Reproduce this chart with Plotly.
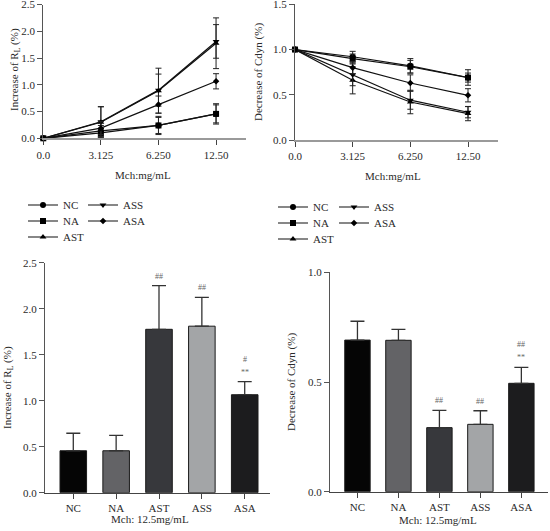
import plotly.graph_objects as go

W, H = 550, 531

# ---------------- data ----------------
conc_labels = ["0.0", "3.125", "6.250", "12.50"]
groups = ["NC", "NA", "AST", "ASS", "ASA"]

rl_mean = {
    "NC":  [0.0, 0.14, 0.24, 0.456],
    "NA":  [0.0, 0.10, 0.24, 0.456],
    "AST": [0.0, 0.30, 0.89, 1.776],
    "ASS": [0.0, 0.31, 0.90, 1.81],
    "ASA": [0.0, 0.19, 0.63, 1.065],
}
rl_err = {
    "NC":  [0.0, 0.10, 0.17, 0.19],
    "NA":  [0.0, 0.08, 0.15, 0.168],
    "AST": [0.0, 0.29, 0.42, 0.474],
    "ASS": [0.0, 0.28, 0.30, 0.314],
    "ASA": [0.0, 0.12, 0.16, 0.142],
}
cd_mean = {
    "NC":  [1.0, 0.92, 0.82, 0.691],
    "NA":  [1.0, 0.90, 0.81, 0.690],
    "AST": [1.0, 0.66, 0.42, 0.292],
    "ASS": [1.0, 0.72, 0.44, 0.307],
    "ASA": [1.0, 0.80, 0.63, 0.494],
}
cd_err = {
    "NC":  [0.0, 0.06, 0.08, 0.086],
    "NA":  [0.0, 0.05, 0.07, 0.050],
    "AST": [0.0, 0.15, 0.13, 0.079],
    "ASS": [0.0, 0.12, 0.10, 0.062],
    "ASA": [0.0, 0.07, 0.09, 0.073],
}

bar_rl = [0.456, 0.456, 1.776, 1.81, 1.065]
bar_rl_err = [0.19, 0.168, 0.474, 0.314, 0.142]
bar_cd = [0.691, 0.690, 0.292, 0.307, 0.494]
bar_cd_err = [0.086, 0.050, 0.079, 0.062, 0.073]

sig_rl = ["", "", "##", "##", "**|#"]
sig_cd = ["", "", "##", "##", "**|##"]

# ---------------- styles ----------------
FONT = "Liberation Serif, Times New Roman, serif"
TXT = "#2a2a2a"
symbols = {"NC": "circle", "NA": "square", "AST": "triangle-up",
           "ASS": "triangle-down", "ASA": "diamond"}
msize = {"NC": 6, "NA": 6, "AST": 6, "ASS": 6, "ASA": 5}
bar_colors = ["#050505", "#636366", "#37383c", "#a3a5a7", "#1c1c1e"]
legend_pos = {"NC": (0, 0), "NA": (0, 1), "AST": (0, 2), "ASS": (1, 0), "ASA": (1, 1)}


def px_x(p):
    return p / W


def px_y(p):
    return 1 - p / H


fig = go.Figure()

# ---------------- line charts ----------------
xs = list(range(len(conc_labels)))
legend_layouts = {}
lid = 0
for panel, (means, errs, xa, ya, col_x, row_y) in enumerate([
    (rl_mean, rl_err, "x", "y", [23, 83], [205, 221, 237]),
    (cd_mean, cd_err, "x2", "y2", [273, 334], [207, 223, 239]),
]):
    for g in groups:
        lid += 1
        lname = "legend" if lid == 1 else f"legend{lid}"
        c, r = legend_pos[g]
        legend_layouts[lname] = dict(
            x=px_x(col_x[c]), y=px_y(row_y[r]), xanchor="left", yanchor="middle",
            bgcolor="rgba(0,0,0,0)", font=dict(family=FONT, size=11, color=TXT),
            itemwidth=30,
        )
        fig.add_trace(go.Scatter(
            x=xs, y=means[g], name=g, mode="lines+markers",
            xaxis=xa, yaxis=ya, legend=lname,
            line=dict(color="#111111", width=1.2),
            marker=dict(symbol=symbols[g], size=msize[g], color="#000000"),
            error_y=dict(type="data", array=errs[g], color="#222222", thickness=1, width=3),
            cliponaxis=False,
        ))

# ---------------- bar charts ----------------
for vals, errs, xa, ya, sig in [
    (bar_rl, bar_rl_err, "x3", "y3", sig_rl),
    (bar_cd, bar_cd_err, "x4", "y4", sig_cd),
]:
    fig.add_trace(go.Bar(
        x=groups, y=vals, xaxis=xa, yaxis=ya, showlegend=False,
        marker=dict(color=bar_colors, line=dict(color="#1a1a1a", width=1)),
        width=0.62,
        error_y=dict(type="data", array=errs, arrayminus=[0] * len(errs), symmetric=False,
                     color="#333333", thickness=1.3, width=7),
    ))
    for g, v, e, s in zip(groups, vals, errs, sig):
        if not s:
            continue
        for k, t in enumerate(s.split("|")):
            fig.add_annotation(
                x=g, y=v + e, xref=xa, yref=ya, text=t, showarrow=False,
                yanchor="bottom", yshift=3 + 13 * k,
                font=dict(family=FONT, size=8, color="#666666"),
            )

# ---------------- axes ----------------
tick_font = dict(family=FONT, size=11, color=TXT)
common_y = dict(showline=True, linecolor="#555555", linewidth=1, ticks="outside",
                ticklen=5, tickcolor="#555555", showgrid=False, zeroline=False,
                tickfont=tick_font, tickformat=".1f", automargin=False,
                ticklabeloverflow="allow")
line_x = dict(showline=True, linecolor="#9a9a9a", linewidth=2, ticks="outside",
              ticklen=5, tickcolor="#444444", showgrid=False, zeroline=False,
              tickfont=tick_font, tickvals=xs, ticktext=conc_labels,
              range=[0, 3.52], automargin=False, ticklabeloverflow="allow")
bar_x = dict(showline=True, linecolor="#444444", linewidth=1.2, ticks="outside",
             ticklen=5, tickcolor="#444444", showgrid=False, zeroline=False,
             tickfont=tick_font, automargin=False, type="category",
             ticklabeloverflow="allow")

fig.update_layout(
    width=W, height=H,
    margin=dict(l=0, r=0, t=0, b=0),
    paper_bgcolor="white", plot_bgcolor="white",
    font=dict(family=FONT, size=11, color=TXT),
    xaxis=dict(domain=[px_x(43.3), px_x(246)], anchor="y", **line_x),
    yaxis=dict(domain=[px_y(138.3), px_y(4.5)], anchor="x", range=[0, 2.5], dtick=0.5, **common_y),
    xaxis2=dict(domain=[px_x(295), px_x(498)], anchor="y2", **line_x),
    yaxis2=dict(domain=[px_y(140), px_y(4.3)], anchor="x2", range=[0, 1.5], dtick=0.5, **common_y),
    xaxis3=dict(domain=[px_x(45), px_x(270)], anchor="y3", range=[-0.66, 4.59], **bar_x),
    yaxis3=dict(domain=[px_y(492.7), px_y(262.7)], anchor="x3", range=[0, 2.5], dtick=0.5, **common_y),
    xaxis4=dict(domain=[px_x(330), px_x(548)], anchor="y4", range=[-0.67, 4.65], **bar_x),
    yaxis4=dict(domain=[px_y(491.7), px_y(272.3)], anchor="x4", range=[0, 1.0], dtick=0.5, **common_y),
    **legend_layouts,
)

# axis titles
titles = [
    ("Mch:mg/mL", 143, 175, 0),
    ("Mch:mg/mL", 393, 176, 0),
    ("Mch: 12.5mg/mL", 150, 519, 0),
    ("Mch: 12.5mg/mL", 438, 520, 0),
    ("Increase of R<sub>L</sub> (%)", 15, 70, -90),
    ("Decrease of Cdyn (%)", 259, 72, -90),
    ("Increase of R<sub>L</sub> (%)", 8, 388, -90),
    ("Decrease of Cdyn (%)", 291, 382, -90),
]
for t, x, y, ang in titles:
    fig.add_annotation(text=t, x=px_x(x), y=px_y(y), xref="paper", yref="paper",
                       showarrow=False, textangle=ang, xanchor="center", yanchor="middle",
                       font=dict(family=FONT, size=11, color=TXT))

fig.write_html("out.html", config={"displayModeBar": False},
               post_script="document.body.style.margin='0';document.body.style.overflow='hidden';")
